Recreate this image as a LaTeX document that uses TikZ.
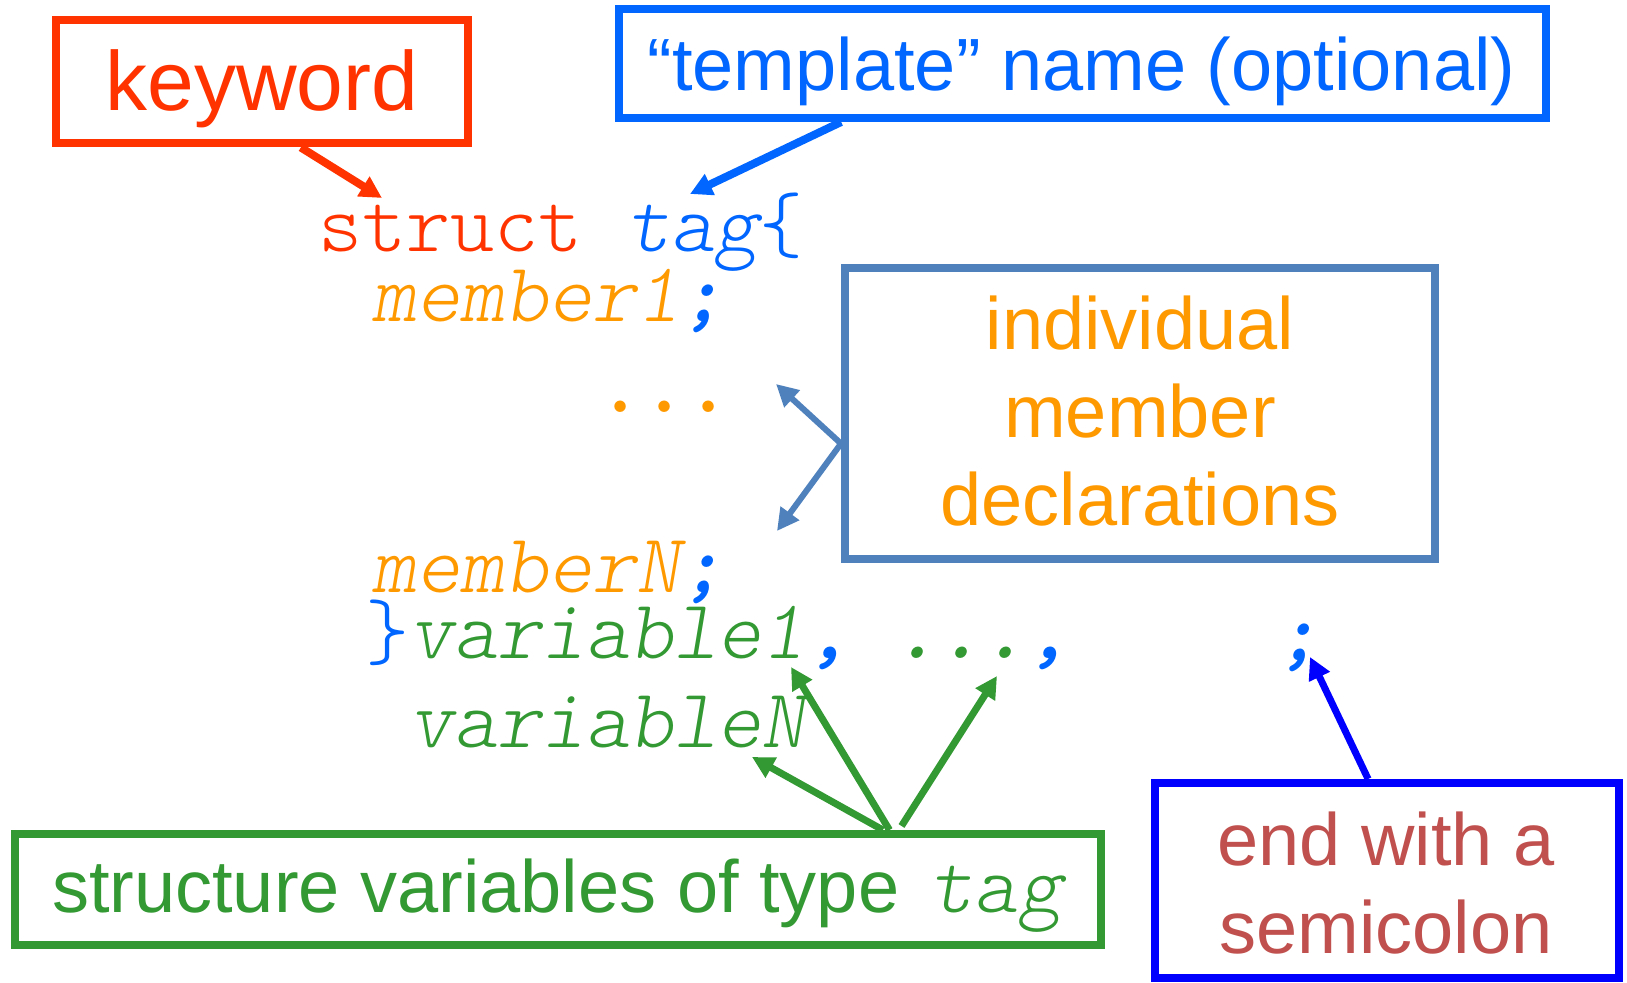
\documentclass[tikz,border=0pt]{standalone}
\usepackage{fontspec}
\setmainfont{Liberation Sans}
\newfontfamily\codett{lmmonolt10-regular.otf}[
  ItalicFont=lmmonolt10-oblique.otf,
  BoldFont=lmmonolt10-bold.otf,
  BoldItalicFont=lmmonolt10-boldoblique.otf]
\usetikzlibrary{arrows.meta,calc}

\definecolor{kwred}{HTML}{FF3300}
\definecolor{tplblue}{HTML}{0066FF}
\definecolor{memblue}{HTML}{4F81BD}
\definecolor{memorange}{HTML}{FF9900}
\definecolor{vargreen}{HTML}{339933}
\definecolor{semiblue}{HTML}{0000FF}
\definecolor{semired}{HTML}{C0504D}

\newcommand\codefont{\codett\fontsize{42}{50}\selectfont}
\newcommand\notefont{\fontsize{37}{44}\selectfont}
% punctuation of the code is set heavier than the letters
\newcommand\punct[2]{\textcolor{#1}{\bfseries #2}}

\begin{document}
\begin{tikzpicture}[x=0.5pt,y=-0.5pt,
  box/.style={draw, rectangle, line width=4pt, inner sep=0pt},
  note/.style={inner sep=0pt, outer sep=0pt, anchor=base, font=\notefont},
  code/.style={inner sep=0pt, outer sep=0pt, anchor=base west, font=\codefont,
               text height=0.55em, text depth=0.08em},
  pointer/.style={line width=4pt, -{Triangle[length=11pt,width=11pt]}}]

\useasboundingbox (0,0) rectangle (1627,983);

% callout boxes
\node[box, draw=kwred, minimum width=206.25pt, minimum height=61.5pt] (kw) at (261.75,82) {};
\node[note, text=kwred, font=\fontsize{42}{50}\selectfont] (kwtext) at (262,111) {keyword};

\node[box, draw=tplblue, minimum width=463.25pt, minimum height=54.5pt] (tpl) at (1082.25,63.5) {};
\node[note, text=tplblue] (tpltext) at (1081.5,91) {“template” name (optional)};

\node[box, draw=memblue, minimum width=295pt, minimum height=145.25pt] (mem) at (1140,413.75) {};
\node[note, text=memorange] (memtext) at (1140,350)
  {\begin{tabular}[t]{@{}c@{}}individual\\member\\declarations\end{tabular}};

\node[box, draw=vargreen, minimum width=543pt, minimum height=55.25pt] (var) at (558,889.25) {};
\node[note, anchor=base west, text=vargreen] (vartext) at (52,912)
  {structure variables of type\hspace{5pt} {\codefont\itshape tag}};

\node[box, draw=semiblue, minimum width=232pt, minimum height=97.5pt] (semi) at (1386.5,880.5) {};
\node[note, text=semired] (semitext) at (1386,865)
  {\begin{tabular}[t]{@{}c@{}}end with a\\semicolon\end{tabular}};

% the struct declaration
\node[code] (l1) at (318,252)
  {\textcolor{kwred}{struct} \textcolor{tplblue}{\itshape tag}\textcolor{tplblue}{\{}};
\node[code, text=memorange] (l2) at (372,322) {\itshape member1\punct{tplblue}{;}};
\node[code, text=memorange] (l3) at (598,413) {\bfseries ...};
\node[code, text=memorange] (l4) at (372,592) {\itshape memberN\punct{tplblue}{;}};
\node[code, text=vargreen] (l5) at (365,658)
  {\textcolor{tplblue}{\}}\itshape variable1\punct{tplblue}{,} {\bfseries ...}\punct{tplblue}{,}};
\node[code, text=tplblue] (l5end) at (1276,660) {\itshape\bfseries ;};
\node[code, text=vargreen] (l6) at (409,747) {\itshape variableN};

% arrow targets
\coordinate (kwtip) at (382,198);
\coordinate (tpltip) at (690,194);
\coordinate (memtipA) at (776,384);
\coordinate (memtipB) at (777,531);
\coordinate (vartipN) at (752,757);
\coordinate (vartip1) at (791,667);
\coordinate (vartipdots) at (997,676);
\coordinate (semitip) at (1310,657);

% connectors
\draw[pointer, kwred] ($(kw.south west)!0.593!(kw.south east)$) -- (kwtip);
\draw[pointer, tplblue] ($(tpl.south west)!0.242!(tpl.south east)$) -- (tpltip);
\draw[pointer, memblue, line width=3pt] ($(mem.north west)!0.6!(mem.south west)$) -- (memtipA);
\draw[pointer, memblue, line width=3pt] ($(mem.north west)!0.6!(mem.south west)$) -- (memtipB);
\draw[pointer, vargreen, line width=3.5pt] ($(var.north west)!0.797!(var.north east)$) -- (vartipN);
\draw[pointer, vargreen, line width=3.5pt] ($(var.north west)!0.803!(var.north east)$) -- (vartip1);
\draw[pointer, vargreen, line width=3.5pt] ($(var.north west)!0.814!(var.north east)+(0,-4)$) -- (vartipdots);
\draw[pointer, semiblue, line width=3.5pt] ($(semi.north west)!0.461!(semi.north east)$) -- (semitip);

\end{tikzpicture}
\end{document}
